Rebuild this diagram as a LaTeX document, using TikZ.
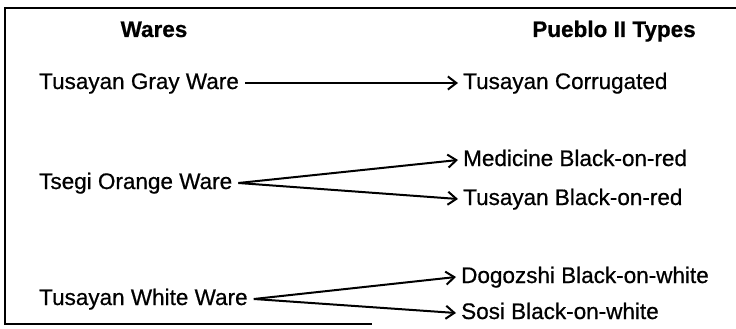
\documentclass[tikz,border=0pt]{standalone}
\usepackage{fontspec}
\setmainfont{Liberation Sans}[FakeBold=0.6]
\newfontfamily\labelfont{Liberation Sans}[FakeBold=0.6]
\usetikzlibrary{arrows.meta}
\begin{document}
\begin{tikzpicture}[x=1pt,y=-1pt,
  lbl/.style={font=\labelfont\fontsize{22.5}{26}\selectfont\addfontfeature{FakeBold=0.6}, inner ysep=0pt,
    text height=16pt, text depth=4pt, anchor=base west},
  src/.style={lbl, inner xsep=6pt},
  dst/.style={lbl, inner xsep=5pt},
  head/.style={font=\fontsize{22.5}{26}\selectfont\bfseries, inner sep=0pt, anchor=base},
  link/.style={line width=2pt, -{Straight Barb[length=8.5pt,width=13pt,line width=2pt]}},
  frame/.style={line width=1.8pt}]
\useasboundingbox (0,0) rectangle (736,329);
% open frame: top, left and part of the bottom
\draw[frame] (736,8) -- (5,8) -- (5,324) -- (372,324);
% column headings
\node[head] (hw) at (154,37) {Wares};
\node[head] (hp) at (614,37) {Pueblo II Types};
% wares
\node[src] (gray)  at (33,89)  {Tusayan Gray Ware};
\node[src] (tsegi) at (33,189) {Tsegi Orange Ware};
\node[src] (white) at (33,305) {Tusayan White Ware};
% pueblo II types
\node[dst] (corr) at (458,89)  {Tusayan Corrugated};
\node[dst] (med)  at (458,166) {Medicine Black-on-red};
\node[dst] (tbr)  at (458,205) {Tusayan Black-on-red};
\node[dst] (dog)  at (456,283) {Dogozshi Black-on-white};
\node[dst] (sosi) at (456,319) {Sosi Black-on-white};
% connectors
\draw[link] (gray.east) -- (corr.west);
\draw[link] (tsegi.east) -- (med.west);
\draw[link] (tsegi.east) -- (tbr.west);
\draw[link] (white.east) -- (dog.west);
\draw[link] (white.east) -- (sosi.west);
\end{tikzpicture}
\end{document}
